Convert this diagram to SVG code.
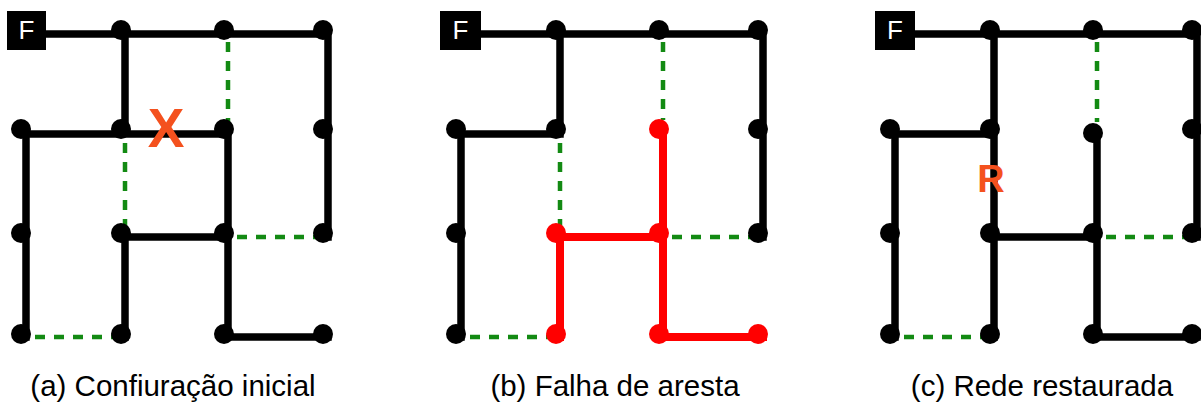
<svg xmlns="http://www.w3.org/2000/svg" width="1201" height="403" viewBox="0 0 1201 403">
<style>
.e{fill:none;stroke:#000;stroke-width:7.5;stroke-linecap:square;stroke-linejoin:miter}
.r{fill:none;stroke:#ff0000;stroke-width:8;stroke-linecap:square}
.d{fill:none;stroke:#138a13;stroke-width:4.5;stroke-dasharray:10 9}
.n{fill:#000}
.nr{fill:#ff0000}
.fb{fill:#000}
.ft{fill:#fff;font-family:"Liberation Sans",Arial,sans-serif;font-size:26px;text-anchor:middle}
.cap{fill:#000;font-family:"Liberation Sans",Arial,sans-serif;font-size:29.5px;text-anchor:middle}
.mk{fill:#f4511e;font-family:"Liberation Sans",Arial,sans-serif;font-weight:bold;text-anchor:middle}
</style>
<rect width="1201" height="403" fill="#fff"/>

<!-- Panel (a) -->
<g id="panel-a">
  <g id="connectors-a">
    <path class="d" d="M228,42 V126 M125,143 V228 M237,237 H318 M35,337 H116"/>
    <path class="e" d="M46,34 H328 V237 M125,34 V134 M26,337 V134 H228 V337 H328 M125,337 V237 H228"/>
  </g>
  <g id="a-F"><rect class="fb" x="7" y="11" width="39" height="39"/><text class="ft" x="26.5" y="39">F</text></g>
  <g id="a-n11"><circle class="n" cx="121" cy="30" r="10"/></g>
  <g id="a-n12"><circle class="n" cx="224" cy="30" r="10"/></g>
  <g id="a-n13"><circle class="n" cx="323" cy="30" r="10"/></g>
  <g id="a-n20"><circle class="n" cx="21" cy="129" r="10"/></g>
  <g id="a-n21"><circle class="n" cx="121" cy="129" r="10"/></g>
  <g id="a-n22"><circle class="n" cx="224" cy="129" r="10"/></g>
  <g id="a-n23"><circle class="n" cx="323" cy="129" r="10"/></g>
  <g id="a-n30"><circle class="n" cx="21" cy="233" r="10"/></g>
  <g id="a-n31"><circle class="n" cx="121" cy="233" r="10"/></g>
  <g id="a-n32"><circle class="n" cx="224" cy="233" r="10"/></g>
  <g id="a-n33"><circle class="n" cx="323" cy="233" r="10"/></g>
  <g id="a-n40"><circle class="n" cx="21" cy="334" r="10"/></g>
  <g id="a-n41"><circle class="n" cx="121" cy="334" r="10"/></g>
  <g id="a-n42"><circle class="n" cx="224" cy="334" r="10"/></g>
  <g id="a-n43"><circle class="n" cx="323" cy="334" r="10"/></g>
  <text class="mk" x="166" y="147" font-size="55">X</text>
  <text class="cap" x="173" y="396">(a) Confiuração inicial</text>
</g>

<!-- Panel (b) -->
<g id="panel-b" transform="translate(435,0)">
  <g id="connectors-b">
    <path class="d" d="M228,42 V120 M125,143 V228 M237,237 H318 M35,337 H116"/>
    <path class="e" d="M46,34 H328 V237 M125,34 V134 M26,337 V134 H125"/>
    <path class="r" d="M228,134 V337 H328 M125,337 V237 H228"/>
  </g>
  <g id="b-F"><rect class="fb" x="5" y="11" width="41" height="39"/><text class="ft" x="25.5" y="39">F</text></g>
  <g id="b-n11"><circle class="n" cx="121" cy="30" r="10"/></g>
  <g id="b-n12"><circle class="n" cx="224" cy="30" r="10"/></g>
  <g id="b-n13"><circle class="n" cx="323" cy="30" r="10"/></g>
  <g id="b-n20"><circle class="n" cx="21" cy="129" r="10"/></g>
  <g id="b-n21"><circle class="n" cx="121" cy="129" r="10"/></g>
  <g id="b-n22"><circle class="nr" cx="224" cy="129" r="10"/></g>
  <g id="b-n23"><circle class="n" cx="323" cy="129" r="10"/></g>
  <g id="b-n30"><circle class="n" cx="21" cy="233" r="10"/></g>
  <g id="b-n31"><circle class="nr" cx="121" cy="233" r="10"/></g>
  <g id="b-n32"><circle class="nr" cx="224" cy="233" r="10"/></g>
  <g id="b-n33"><circle class="n" cx="323" cy="233" r="10"/></g>
  <g id="b-n40"><circle class="n" cx="21" cy="334" r="10"/></g>
  <g id="b-n41"><circle class="nr" cx="121" cy="334" r="10"/></g>
  <g id="b-n42"><circle class="nr" cx="224" cy="334" r="10"/></g>
  <g id="b-n43"><circle class="nr" cx="323" cy="334" r="10"/></g>
  <text class="cap" x="180" y="396">(b) Falha de aresta</text>
</g>

<!-- Panel (c) -->
<g id="panel-c" transform="translate(869,0)">
  <g id="connectors-c">
    <path class="d" d="M228,42 V122 M237,237 H318 M35,337 H116"/>
    <path class="e" d="M46,34 H328 V237 M125,34 V337 M26,337 V134 H125 M228,134 V337 H328 M125,237 H228"/>
  </g>
  <g id="c-F"><rect class="fb" x="6" y="11" width="40" height="39"/><text class="ft" x="26" y="39">F</text></g>
  <g id="c-n11"><circle class="n" cx="121" cy="30" r="10"/></g>
  <g id="c-n12"><circle class="n" cx="224" cy="30" r="10"/></g>
  <g id="c-n13"><circle class="n" cx="323" cy="30" r="10"/></g>
  <g id="c-n20"><circle class="n" cx="21" cy="129" r="10"/></g>
  <g id="c-n21"><circle class="n" cx="121" cy="129" r="10"/></g>
  <g id="c-n22"><circle class="n" cx="224" cy="133" r="10"/></g>
  <g id="c-n23"><circle class="n" cx="323" cy="129" r="10"/></g>
  <g id="c-n30"><circle class="n" cx="21" cy="233" r="10"/></g>
  <g id="c-n31"><circle class="n" cx="121" cy="233" r="10"/></g>
  <g id="c-n32"><circle class="n" cx="224" cy="233" r="10"/></g>
  <g id="c-n33"><circle class="n" cx="323" cy="233" r="10"/></g>
  <g id="c-n40"><circle class="n" cx="21" cy="334" r="10"/></g>
  <g id="c-n41"><circle class="n" cx="121" cy="334" r="10"/></g>
  <g id="c-n42"><circle class="n" cx="224" cy="334" r="10"/></g>
  <g id="c-n43"><circle class="n" cx="323" cy="334" r="10"/></g>
  <text class="mk" x="122" y="192" font-size="38">R</text>
  <text class="cap" x="173" y="396">(c) Rede restaurada</text>
</g>
</svg>
